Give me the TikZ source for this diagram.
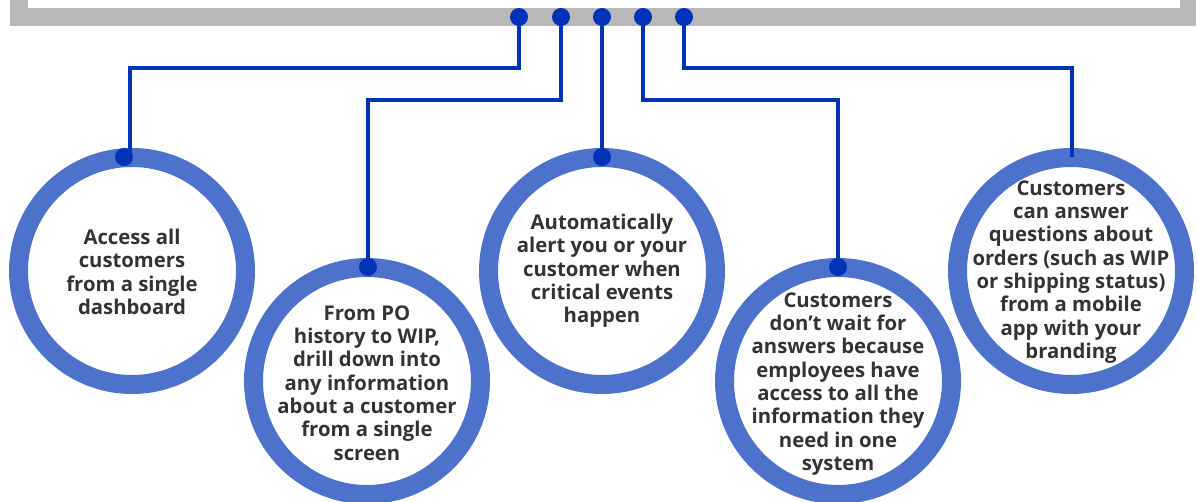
\documentclass[tikz,border=0pt]{standalone}
\usepackage{fontspec}
\setmainfont{Open Sans}
\definecolor{barGray}{HTML}{B8B8B8}
\definecolor{ringBlue}{HTML}{4D72CC}
\definecolor{lineBlue}{HTML}{0033B8}
\definecolor{txt}{HTML}{333333}
\begin{document}
\begin{tikzpicture}[x=1pt,y=-1pt,
  ring/.style={circle, draw=ringBlue, line width=19pt, minimum size=227pt, inner sep=0pt},
  label/.style={align=center, text=txt, font=\fontsize{20.3}{23.3}\selectfont\bfseries},
  dot/.style={circle, fill=lineBlue, inner sep=0pt, minimum size=18pt},
  conn/.style={draw=lineBlue, line width=4pt}]
\useasboundingbox (0,0) rectangle (1197,502);
% top bar
\fill[barGray] (10,0) rectangle (1196,26);
\fill[white] (28,0) rectangle (1180,8);
% circles
\node[ring] (c1) at (132,271) {};
\node[ring] (c2) at (367,381) {};
\node[ring] (c3) at (602,271) {};
\node[ring] (c4) at (838,381) {};
\node[ring] (c5) at (1071,271) {};
\node[label] (l1) at (132,272) {Access all\\customers\\from a single\\dashboard};
\node[label] (l2) at (367,383) {From PO\\history to WIP,\\drill down into\\any information\\about a customer\\from a single\\screen};
\node[label] (l3) at (602,271) {Automatically\\alert you or your\\customer when\\critical events\\happen};
\node[label] (l4) at (838,384) {Customers\\don’t wait for\\answers because\\employees have\\access to all the\\information they\\need in one\\system};
\node[label] (l5) at (1071,272) {Customers\\can answer\\questions about\\orders (such as WIP\\or shipping status)\\from a mobile\\app with your\\branding};
% connector coordinates
\coordinate (e1) at (130,157);
\coordinate (e2) at (368,267);
\coordinate (e3) at (602,157);
\coordinate (e4) at (838,267);
\coordinate (e5) at (1072,157);
% top dots
\node[dot] (t1) at (519,17) {};
\node[dot] (t2) at (561,17) {};
\node[dot] (t3) at (602,17) {};
\node[dot] (t4) at (643,17) {};
\node[dot] (t5) at (684,17) {};
% connectors
\draw[conn] (t1.center) -- (519,68) -| (e1);
\draw[conn] (t2.center) -- (561,100) -| (e2);
\draw[conn] (t3.center) -- (e3);
\draw[conn] (t4.center) -- (643,100) -| (e4);
\draw[conn] (t5.center) -- (684,68) -| (e5);
% end dots
\node[dot] (d1) at (124,157) {};
\node[dot] (d2) at (e2) {};
\node[dot] (d3) at (e3) {};
\node[dot] (d4) at (e4) {};
\end{tikzpicture}
\end{document}
